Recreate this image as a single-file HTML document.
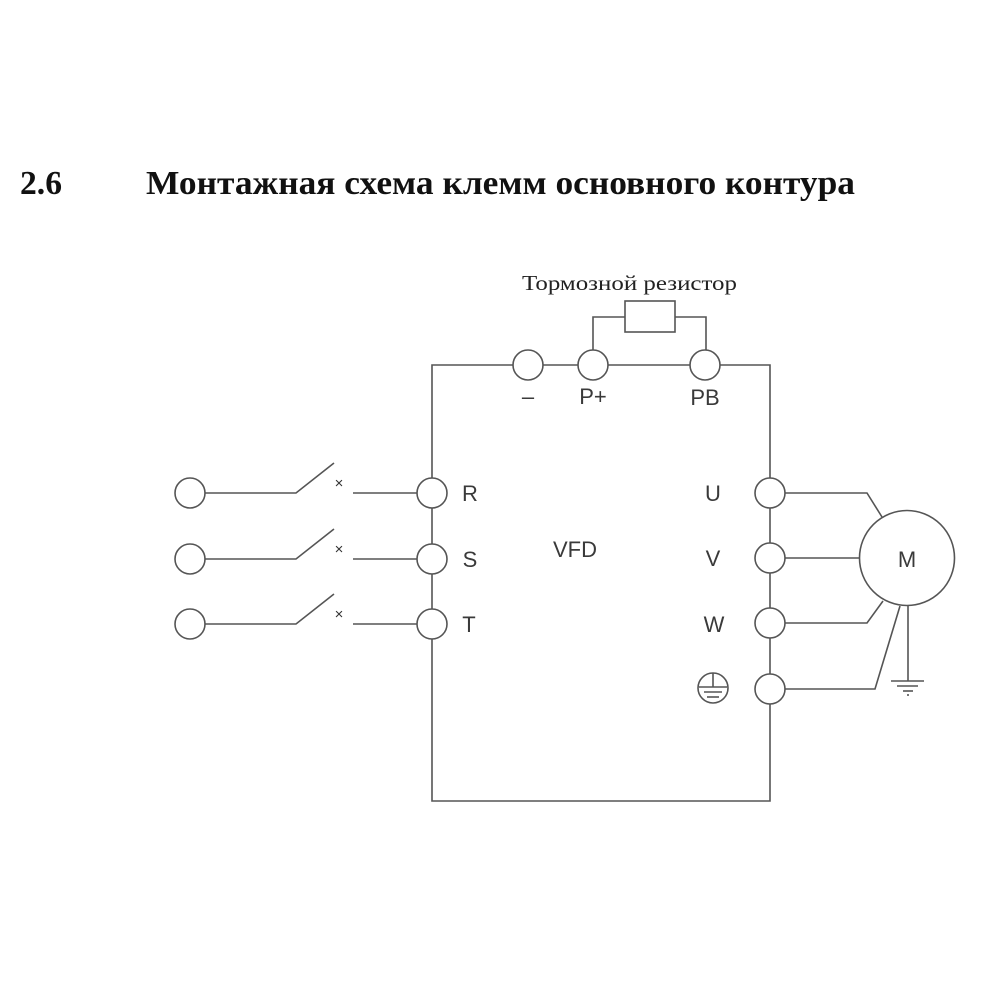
<!DOCTYPE html>
<html>
<head>
<meta charset="utf-8">
<style>
html,body{margin:0;padding:0;background:#fff;}
svg{display:block;}
</style>
</head>
<body>
<svg width="1000" height="1000" viewBox="0 0 1000 1000" xmlns="http://www.w3.org/2000/svg">
<rect width="1000" height="1000" fill="#fff"/>
<!-- Title -->
<text x="20" y="194" font-family="'Liberation Serif', serif" font-weight="bold" font-size="34" fill="#111" textLength="42" lengthAdjust="spacingAndGlyphs">2.6</text>
<text x="146" y="194" font-family="'Liberation Serif', serif" font-weight="bold" font-size="34" fill="#111" textLength="709" lengthAdjust="spacingAndGlyphs">Монтажная схема клемм основного контура</text>

<text x="522" y="290" font-family="'Liberation Serif', serif" font-size="21" fill="#222" textLength="215" lengthAdjust="spacingAndGlyphs">Тормозной резистор</text>

<g fill="none" stroke="#555" stroke-width="1.6">
  <!-- frame -->
  <polyline points="513,365 432,365 432,478"/>
  <line x1="543" y1="365" x2="578" y2="365"/>
  <line x1="608" y1="365" x2="690" y2="365"/>
  <polyline points="720,365 770,365 770,478"/>
  <line x1="432" y1="508" x2="432" y2="544"/>
  <line x1="432" y1="574" x2="432" y2="609"/>
  <polyline points="432,639 432,801 770,801 770,704"/>
  <line x1="770" y1="508" x2="770" y2="543"/>
  <line x1="770" y1="573" x2="770" y2="608"/>
  <line x1="770" y1="638" x2="770" y2="674"/>

  <!-- top terminals -->
  <circle cx="528" cy="365" r="15"/>
  <circle cx="593" cy="365" r="15"/>
  <circle cx="705" cy="365" r="15"/>
  <!-- resistor -->
  <polyline points="593,350 593,317 625,317"/>
  <rect x="625" y="301" width="50" height="31"/>
  <polyline points="675,317 706,317 706,350"/>

  <!-- left terminals -->
  <circle cx="190" cy="493" r="15"/>
  <circle cx="190" cy="559" r="15"/>
  <circle cx="190" cy="624" r="15"/>
  <circle cx="432" cy="493" r="15"/>
  <circle cx="432" cy="559" r="15"/>
  <circle cx="432" cy="624" r="15"/>
  <polyline points="205,493 296,493 334,463"/>
  <polyline points="205,559 296,559 334,529"/>
  <polyline points="205,624 296,624 334,594"/>
  <line x1="353" y1="493" x2="417" y2="493"/>
  <line x1="353" y1="559" x2="417" y2="559"/>
  <line x1="353" y1="624" x2="417" y2="624"/>

  <!-- right terminals -->
  <circle cx="770" cy="493" r="15"/>
  <circle cx="770" cy="558" r="15"/>
  <circle cx="770" cy="623" r="15"/>
  <circle cx="770" cy="689" r="15"/>

  <!-- motor -->
  <circle cx="907" cy="558" r="47.5"/>
  <polyline points="785,493 867,493 882,517"/>
  <line x1="785" y1="558" x2="860" y2="558"/>
  <polyline points="785,623 867,623 883,601"/>
  <polyline points="785,689 875,689 900,606"/>
  <line x1="908" y1="606" x2="908" y2="681"/>
  <line x1="891" y1="681" x2="924" y2="681"/>
  <line x1="897" y1="686" x2="918" y2="686"/>
  <line x1="903" y1="691" x2="913" y2="691"/>
  <line x1="907" y1="695" x2="909" y2="695"/>

  <!-- ground symbol in circle -->
  <circle cx="713" cy="688" r="15"/>
  <line x1="713" y1="673" x2="713" y2="687"/>
  <line x1="699" y1="687" x2="727" y2="687"/>
  <line x1="704" y1="692" x2="722" y2="692"/>
  <line x1="707" y1="697" x2="719" y2="697"/>
</g>

<!-- switch crosses -->
<g font-family="'Liberation Sans', sans-serif" font-size="15" fill="#333" text-anchor="middle">
  <text x="339" y="488">×</text>
  <text x="339" y="554">×</text>
  <text x="339" y="619">×</text>
</g>

<g font-family="'Liberation Sans', sans-serif" font-size="22" fill="#3a3a3a" text-anchor="middle">
  <text x="528" y="404">–</text>
  <text x="593" y="404">P+</text>
  <text x="705" y="405">PB</text>
  <text x="470" y="501">R</text>
  <text x="470" y="567">S</text>
  <text x="469" y="632">T</text>
  <text x="713" y="501">U</text>
  <text x="713" y="566">V</text>
  <text x="714" y="632">W</text>
  <text x="575" y="557">VFD</text>
  <text x="907" y="567">M</text>
</g>
</svg>
</body>
</html>
